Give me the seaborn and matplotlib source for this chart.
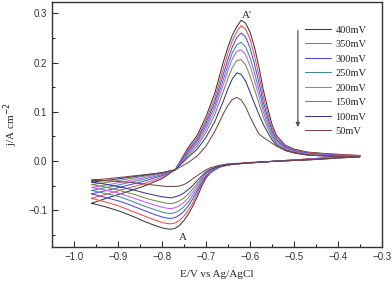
import numpy as np
import pandas as pd
import matplotlib
matplotlib.use("Agg")
import matplotlib.pyplot as plt
import seaborn as sns

# --- data (j in A cm^-2, E in V vs Ag/AgCl) ---
scan_rates = ["400mV", "350mV", "300mV", "250mV", "200mV", "150mV", "100mV", "50mV"]
colors = ["#3a3a3a", "#ff4848", "#4848ff", "#3f8f8f", "#cc55ff", "#6f8f3f", "#34349a", "#7a4545"]

# anodic (forward) sweep, -0.96 -> -0.35
e_fwd = [-0.96, -0.92, -0.88, -0.84, -0.80, -0.77, -0.74, -0.72, -0.70, -0.68,
         -0.66, -0.65, -0.64, -0.63, -0.62, -0.61, -0.60, -0.59, -0.58, -0.57,
         -0.56, -0.55, -0.54, -0.52, -0.50, -0.47, -0.43, -0.39, -0.35]
j_fwd_400 = [-0.086, -0.074, -0.063, -0.051, -0.036, -0.018, 0.028, 0.052, 0.090, 0.138,
             0.203, 0.232, 0.256, 0.273, 0.286, 0.280, 0.262, 0.232, 0.192, 0.145,
             0.108, 0.074, 0.052, 0.032, 0.024, 0.018, 0.015, 0.013, 0.011]
j_fwd_350 = [-0.076, -0.066, -0.056, -0.046, -0.033, -0.018, 0.024, 0.047, 0.083, 0.128,
             0.190, 0.220, 0.245, 0.263, 0.275, 0.268, 0.248, 0.215, 0.175, 0.132,
             0.098, 0.068, 0.048, 0.030, 0.022, 0.017, 0.014, 0.012, 0.011]
j_fwd_300 = [-0.067, -0.059, -0.050, -0.041, -0.030, -0.018, 0.021, 0.043, 0.077, 0.120,
             0.178, 0.207, 0.232, 0.251, 0.260, 0.252, 0.230, 0.198, 0.160, 0.120,
             0.089, 0.062, 0.044, 0.028, 0.021, 0.016, 0.013, 0.011, 0.010]
j_fwd_250 = [-0.060, -0.053, -0.045, -0.037, -0.028, -0.018, 0.018, 0.039, 0.071, 0.112,
             0.167, 0.195, 0.220, 0.236, 0.241, 0.232, 0.210, 0.180, 0.145, 0.110,
             0.081, 0.057, 0.041, 0.026, 0.020, 0.015, 0.012, 0.011, 0.010]
j_fwd_200 = [-0.054, -0.048, -0.041, -0.034, -0.026, -0.018, 0.015, 0.035, 0.065, 0.104,
             0.157, 0.184, 0.208, 0.223, 0.226, 0.216, 0.193, 0.164, 0.132, 0.100,
             0.074, 0.053, 0.038, 0.025, 0.019, 0.014, 0.012, 0.010, 0.009]
j_fwd_150 = [-0.048, -0.043, -0.037, -0.031, -0.025, -0.018, 0.012, 0.030, 0.058, 0.094,
             0.143, 0.168, 0.190, 0.204, 0.206, 0.195, 0.173, 0.146, 0.118, 0.090,
             0.067, 0.049, 0.035, 0.023, 0.018, 0.013, 0.011, 0.010, 0.009]
j_fwd_100 = [-0.043, -0.039, -0.034, -0.029, -0.024, -0.018, 0.008, 0.024, 0.048, 0.080,
             0.123, 0.147, 0.167, 0.179, 0.176, 0.162, 0.140, 0.117, 0.095, 0.075,
             0.058, 0.043, 0.032, 0.021, 0.016, 0.012, 0.010, 0.009, 0.008]
j_fwd_50 = [-0.039, -0.036, -0.032, -0.028, -0.024, -0.018, -0.003, 0.010, 0.030, 0.060,
            0.097, 0.113, 0.125, 0.129, 0.124, 0.110, 0.090, 0.072, 0.055, 0.048,
            0.042, 0.036, 0.030, 0.022, 0.017, 0.012, 0.010, 0.009, 0.008]

# cathodic (reverse) sweep, -0.35 -> -0.96
e_rev = [-0.35, -0.40, -0.45, -0.50, -0.55, -0.60, -0.63, -0.65, -0.67, -0.69,
         -0.70, -0.71, -0.72, -0.73, -0.74, -0.75, -0.76, -0.77, -0.78, -0.79,
         -0.80, -0.82, -0.84, -0.86, -0.88, -0.90, -0.93, -0.96]
j_rev_400 = [0.011, 0.008, 0.005, 0.002, -0.001, -0.004, -0.006, -0.008, -0.013, -0.024,
             -0.035, -0.052, -0.073, -0.092, -0.108, -0.121, -0.131, -0.137, -0.139, -0.138,
             -0.136, -0.130, -0.123, -0.115, -0.108, -0.101, -0.093, -0.086]
j_rev_350 = [0.011, 0.008, 0.005, 0.002, -0.001, -0.004, -0.006, -0.008, -0.013, -0.023,
             -0.033, -0.048, -0.067, -0.085, -0.100, -0.112, -0.121, -0.126, -0.128, -0.127,
             -0.125, -0.119, -0.112, -0.105, -0.098, -0.091, -0.083, -0.076]
j_rev_300 = [0.010, 0.007, 0.004, 0.002, -0.001, -0.004, -0.006, -0.008, -0.012, -0.022,
             -0.031, -0.045, -0.061, -0.077, -0.091, -0.102, -0.110, -0.115, -0.117, -0.116,
             -0.114, -0.108, -0.101, -0.094, -0.087, -0.081, -0.074, -0.067]
j_rev_250 = [0.010, 0.007, 0.004, 0.001, -0.001, -0.004, -0.006, -0.008, -0.012, -0.021,
             -0.029, -0.041, -0.056, -0.070, -0.083, -0.093, -0.100, -0.105, -0.107, -0.106,
             -0.104, -0.098, -0.092, -0.085, -0.078, -0.072, -0.066, -0.060]
j_rev_200 = [0.009, 0.007, 0.004, 0.001, -0.001, -0.004, -0.006, -0.008, -0.011, -0.019,
             -0.027, -0.038, -0.051, -0.063, -0.075, -0.084, -0.091, -0.095, -0.097, -0.096,
             -0.094, -0.089, -0.083, -0.077, -0.071, -0.065, -0.059, -0.054]
j_rev_150 = [0.009, 0.006, 0.003, 0.001, -0.001, -0.004, -0.006, -0.008, -0.011, -0.018,
             -0.025, -0.035, -0.046, -0.057, -0.067, -0.075, -0.081, -0.085, -0.087, -0.086,
             -0.084, -0.080, -0.075, -0.069, -0.064, -0.059, -0.053, -0.048]
j_rev_100 = [0.008, 0.006, 0.003, 0.001, -0.001, -0.004, -0.006, -0.008, -0.011, -0.017,
             -0.022, -0.031, -0.040, -0.050, -0.058, -0.065, -0.070, -0.073, -0.075, -0.074,
             -0.073, -0.069, -0.065, -0.060, -0.056, -0.052, -0.047, -0.043]
j_rev_50 = [0.008, 0.006, 0.003, 0.001, -0.001, -0.003, -0.005, -0.006, -0.009, -0.014,
            -0.018, -0.024, -0.030, -0.036, -0.043, -0.048, -0.051, -0.052, -0.052, -0.052,
            -0.051, -0.049, -0.047, -0.045, -0.043, -0.042, -0.040, -0.039]

j_fwd = [j_fwd_400, j_fwd_350, j_fwd_300, j_fwd_250, j_fwd_200, j_fwd_150, j_fwd_100, j_fwd_50]
j_rev = [j_rev_400, j_rev_350, j_rev_300, j_rev_250, j_rev_200, j_rev_150, j_rev_100, j_rev_50]

# build one closed loop per scan rate
frames = []
for name, jf, jr in zip(scan_rates, j_fwd, j_rev):
    frames.append(pd.DataFrame({"E": e_fwd + e_rev, "j": jf + jr, "rate": name}))
df = pd.concat(frames, ignore_index=True)

sns.set_style("ticks")
plt.rcParams["font.family"] = ["Liberation Sans", "DejaVu Sans"]
serif = ["Liberation Serif", "DejaVu Serif"]

fig = plt.figure(figsize=(3.92, 2.82), dpi=100)
ax = fig.add_axes([0.1327, 0.1241, 0.8418, 0.8688])

for name, col in zip(scan_rates, colors):
    sub = df[df["rate"] == name]
    sns.lineplot(data=sub, x="E", y="j", sort=False, estimator=None,
                 color=col, linewidth=0.75, label=name, ax=ax)

ax.set_xlim(-1.05, -0.3)
ax.set_ylim(-0.175, 0.323)
ax.set_xticks([-1.0, -0.9, -0.8, -0.7, -0.6, -0.5, -0.4, -0.3])
ax.set_xticks(np.arange(-1.05, -0.29, 0.05), minor=True)
ax.set_yticks([-0.1, 0.0, 0.1, 0.2, 0.3])
ax.set_yticks(np.arange(-0.15, 0.33, 0.05), minor=True)
ax.tick_params(which="major", direction="in", length=4, width=0.8, labelsize=7, colors="#333333")
ax.tick_params(which="minor", direction="in", length=2, width=0.8)
for s in ax.spines.values():
    s.set_linewidth(1.0)
    s.set_color("#333333")

ax.set_xlabel("E/V vs Ag/AgCl", family=serif, fontsize=8, labelpad=6)
ax.set_ylabel("j/A cm$^{-2}$", family=serif, fontsize=8, labelpad=6)

ax.text(-0.607, 0.296, "A'", family=serif, fontsize=8, ha="center", va="center")
ax.text(-0.752, -0.155, "A", family=serif, fontsize=8, ha="center", va="center")

leg = ax.legend(loc="upper left", bbox_to_anchor=(0.745, 0.935), frameon=False,
                prop={"family": serif, "size": 7.5}, handlelength=2.5,
                labelspacing=0.5, handletextpad=0.4, borderpad=0.2)

# downward arrow next to the legend
ax.annotate("", xy=(0.745, 0.478), xytext=(0.745, 0.894),
            xycoords="axes fraction",
            arrowprops=dict(arrowstyle="-|>", color="#555555", lw=0.9,
                            mutation_scale=6))

fig.savefig("out.png", dpi=100)
